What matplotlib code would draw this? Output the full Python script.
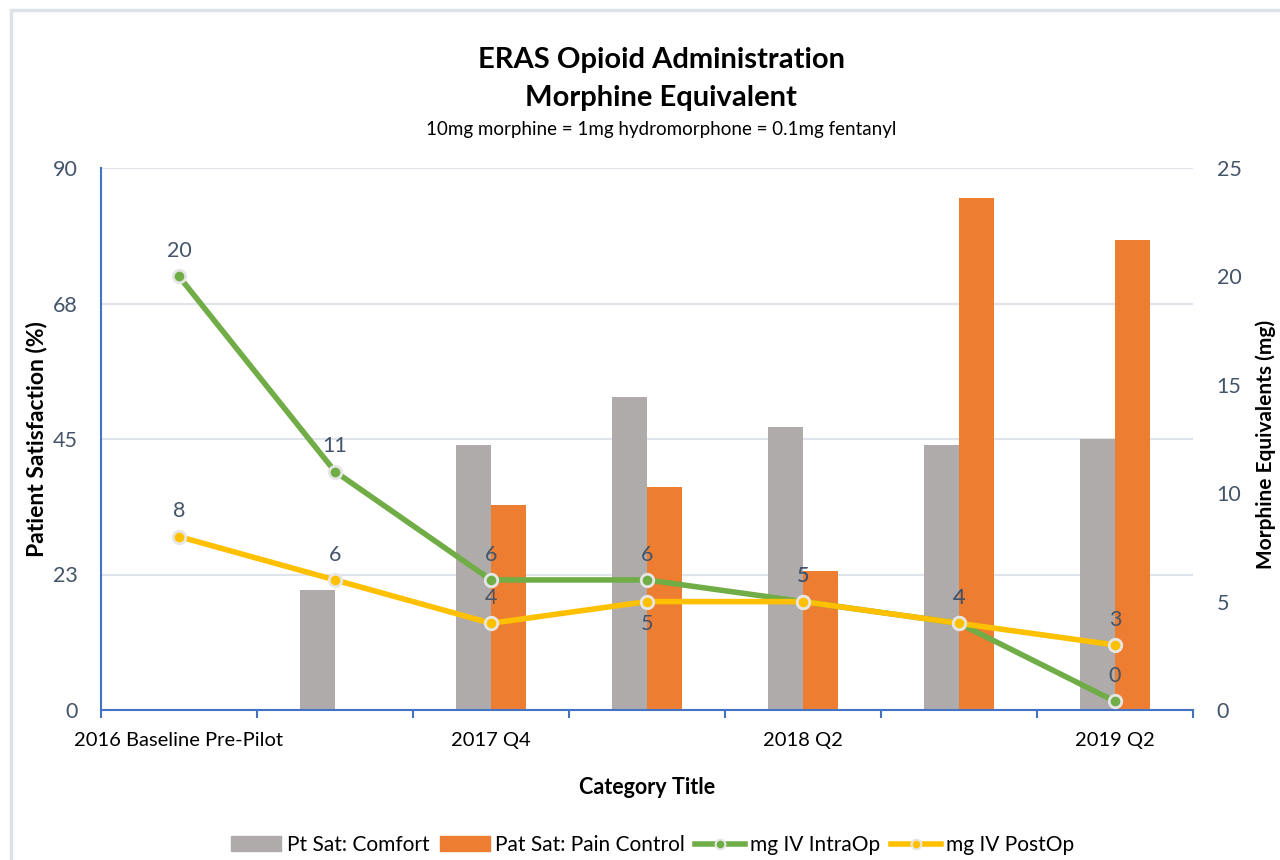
import matplotlib
matplotlib.use("Agg")
import matplotlib.pyplot as plt
import numpy as np
from matplotlib.lines import Line2D
from matplotlib.patches import Patch, Rectangle

plt.rcParams['font.family'] = ['Lato', 'DejaVu Sans']

categories = ["2016 Baseline Pre-Pilot", "2017 Q3", "2017 Q4", "2018 Q1",
              "2018 Q2", "2018 Q4", "2019 Q2"]
shown_labels = ["2016 Baseline Pre-Pilot", "", "2017 Q4", "", "2018 Q2", "", "2019 Q2"]
comfort = [np.nan, 20, 44, 52, 47, 44, 45]
pain_control = [np.nan, np.nan, 34, 37, 23, 85, 78]
iv_intraop = [20, 11, 6, 6, 5, 4, 0.4]
iv_postop = [8, 6, 4, 5, 5, 4, 3]
left_ticks = [0, 22.5, 45, 67.5, 90]
left_tick_labels = ["0", "23", "45", "68", "90"]
right_ticks = [0, 5, 10, 15, 20, 25]

GRAY = "#afabab"
ORANGE = "#ed7d31"
GREEN = "#70ad47"
YELLOW = "#ffc000"
LBL = "#44546a"
AXBLUE = "#4472c4"
GRID = "#dfe3ea"

fig = plt.figure(figsize=(12.8, 8.6), dpi=100)
fig.patches.append(Rectangle((11/1280, -0.01), 1.1, 1 - 10/860 + 0.01, transform=fig.transFigure,
                             fill=False, edgecolor="#dde2ea", linewidth=2.5, zorder=-1))
ax = fig.add_axes([101/1280, 1 - 710/860, (1193 - 101)/1280, (710 - 168)/860])
ax2 = ax.twinx()

x = np.arange(len(categories))
w = 0.224
ax.bar(x - w/2, comfort, width=w, color=GRAY, zorder=2)
ax.bar(x + w/2, pain_control, width=w, color=ORANGE, zorder=2)
ax.set_ylim(0, 90)
ax.set_xlim(-0.5, len(categories) - 0.5)
ax.set_yticks(left_ticks)
ax.set_yticklabels(left_tick_labels)
ax.yaxis.grid(True, color=GRID, linewidth=1.5, zorder=0)
ax.set_axisbelow(True)
ax.tick_params(axis='y', length=0, labelsize=15.5, labelcolor=LBL, pad=17)
ax.set_xticks(x)
ax.set_xticklabels(shown_labels)
ax.set_xticks(np.arange(len(categories) + 1) - 0.5, minor=True)
ax.tick_params(axis='x', which='major', length=0, labelsize=14.5, pad=16)
ax.tick_params(axis='x', which='minor', length=6, width=1.5, color=AXBLUE)
for s in ['top', 'right']:
    ax.spines[s].set_visible(False)
ax.spines['left'].set_color(AXBLUE)
ax.spines['left'].set_linewidth(1.5)
ax.spines['bottom'].set_color(AXBLUE)
ax.spines['bottom'].set_linewidth(1.5)
ax.set_ylabel("Patient Satisfaction (%)", fontsize=16.5, fontweight='bold',
              va='center')
ax.yaxis.set_label_coords(-0.0595, 0.5)
ax.set_xlabel("Category Title", fontsize=15.5, fontweight='bold', labelpad=20)

ax2.plot(x, iv_intraop, color=GREEN, linewidth=4, marker='o', markersize=9,
         markerfacecolor=GREEN, markeredgecolor="#e6e6e6", markeredgewidth=2, zorder=3)
ax2.plot(x, iv_postop, color=YELLOW, linewidth=4, marker='o', markersize=9,
         markerfacecolor=YELLOW, markeredgecolor="#e6e6e6", markeredgewidth=2, zorder=4)
ax2.set_ylim(0, 25)
ax2.set_yticks(right_ticks)
ax2.tick_params(axis='y', length=0, labelsize=15.5, labelcolor=LBL, pad=17)
for s in ['top', 'right', 'left', 'bottom']:
    ax2.spines[s].set_visible(False)
ax2.set_ylabel("Morphine Equivalents (mg)", fontsize=15, fontweight='bold',
               rotation=90, va='center')
ax2.yaxis.set_label_coords(1.0665, 0.49)

for i, v in enumerate(iv_intraop):
    ax2.annotate(f"{v:.0f}", (i, v), xytext=(0, 11), textcoords='offset points',
                 ha='center', va='bottom', fontsize=15.5, color=LBL, zorder=5)
post_below = [False, False, False, True, False, False, False]
for i, v in enumerate(iv_postop):
    if post_below[i]:
        ax2.annotate(f"{v:.0f}", (i, v), xytext=(0, -9), textcoords='offset points',
                     ha='center', va='top', fontsize=15.5, color=LBL, zorder=5)
    else:
        ax2.annotate(f"{v:.0f}", (i, v), xytext=(0, 11), textcoords='offset points',
                     ha='center', va='bottom', fontsize=15.5, color=LBL, zorder=5)

cx = 661 / 1280
fig.text(cx, 1 - 60/860, "ERAS Opioid Administration", ha='center', va='center',
         fontsize=21, fontweight='bold')
fig.text(cx, 1 - 98/860, "Morphine Equivalent", ha='center', va='center',
         fontsize=21, fontweight='bold')
fig.text(cx, 1 - 130/860, "10mg morphine = 1mg hydromorphone = 0.1mg fentanyl",
         ha='center', va='center', fontsize=13.5)

handles = [Patch(color=GRAY), Patch(color=ORANGE),
           Line2D([], [], color=GREEN, linewidth=4, marker='o', markersize=7,
                  markerfacecolor=GREEN, markeredgecolor="#e6e6e6", markeredgewidth=1.5),
           Line2D([], [], color=YELLOW, linewidth=4, marker='o', markersize=7,
                  markerfacecolor=YELLOW, markeredgecolor="#e6e6e6", markeredgewidth=1.5)]
labels = ["Pt Sat: Comfort", "Pat Sat: Pain Control", "mg IV IntraOp", "mg IV PostOp"]
fig.legend(handles, labels, loc='center', bbox_to_anchor=(0.51, 1 - 845/860), ncol=4,
           frameon=False, fontsize=15, handlelength=2.4, handletextpad=0.25, columnspacing=0.5)

fig.savefig("out.png", dpi=100)
